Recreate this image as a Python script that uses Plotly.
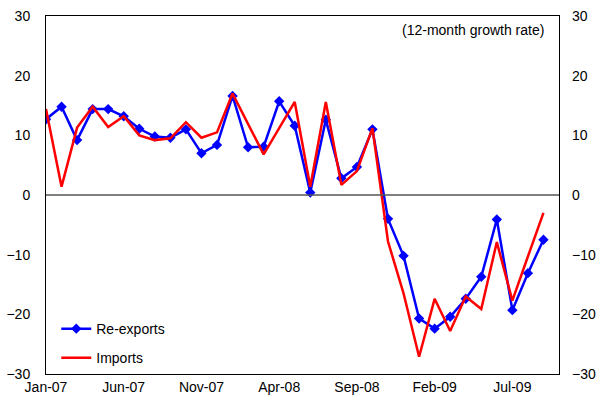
import plotly.graph_objects as go

# month labels shown on the x axis (every 5th month)
tick_labels = ["Jan-07", "Jun-07", "Nov-07", "Apr-08", "Sep-08", "Feb-09", "Jul-09"]
tick_pos = [0, 5, 10, 15, 20, 25, 30]

# 12-month growth rate, Jan-07 .. Sep-09
re_exports = [12.7, 14.8, 9.2, 14.4, 14.4, 13.2, 11.1, 9.8, 9.6, 11.0, 7.0, 8.4,
              16.6, 8.0, 8.1, 15.7, 11.6, 0.4, 12.6, 2.8, 4.7, 11.0, -4.0, -10.2,
              -20.7, -22.4, -20.4, -17.4, -13.7, -4.1, -19.3, -13.1, -7.5]
imports = [14.4, 1.4, 11.3, 14.8, 11.4, 13.2, 10.0, 9.2, 9.5, 12.2, 9.6, 10.5,
           17.0, 12.0, 6.8, 11.2, 15.6, 1.4, 15.6, 1.7, 4.0, 11.2, -7.8, -16.5,
           -27.1, -17.4, -22.8, -17.0, -19.1, -7.9, -17.7, -10.3, -3.0]

months = list(range(len(re_exports)))

fig = go.Figure()
fig.add_trace(go.Scatter(x=months, y=re_exports, name="Re-exports", mode="lines+markers",
                         line=dict(color="#0000ff", width=2.5),
                         marker=dict(symbol="diamond", size=8, color="#0000ff"),
                         legendgroup="a"))
fig.add_trace(go.Scatter(x=months, y=imports, name="Imports", mode="lines",
                         line=dict(color="#ff0000", width=2.5), legendgroup="b"))
# dummy trace so the right-hand axis gets drawn
fig.add_trace(go.Scatter(x=[0], y=[0], yaxis="y2", showlegend=False,
                         mode="markers", marker=dict(opacity=0), hoverinfo="skip"))

fig.add_hline(y=0, line=dict(color="#555555", width=1.5))

font = dict(family="Liberation Sans, Arial", size=14, color="black")

fig.update_layout(
    width=605, height=403,
    margin=dict(l=46, r=46, t=16, b=29),
    plot_bgcolor="white", paper_bgcolor="white",
    font=font,
    showlegend=True,
    legend=dict(x=0.02, y=0.085, xanchor="left", yanchor="middle",
                bgcolor="rgba(0,0,0,0)", traceorder="grouped", tracegroupgap=8,
                font=font),
    xaxis=dict(range=[0, 33], tickvals=tick_pos, ticktext=tick_labels,
               showgrid=False, zeroline=False, showline=True, linecolor="black",
               linewidth=1, mirror=True, ticks="", automargin=False,
               ticklabeloverflow="allow"),
    yaxis=dict(range=[-30, 30], dtick=10, showgrid=False, zeroline=False,
               showline=True, linecolor="black", linewidth=1, mirror=True,
               ticks="", ticklabelstandoff=12, automargin=False,
               ticklabeloverflow="allow"),
    yaxis2=dict(range=[-30, 30], dtick=10, overlaying="y", side="right",
                showgrid=False, zeroline=False, showline=False, ticks="",
                ticklabelstandoff=12, automargin=False, ticklabeloverflow="allow"),
    annotations=[dict(text="(12-month growth rate)", x=0.975, y=0.961,
                      xref="paper", yref="paper", xanchor="right", yanchor="middle",
                      showarrow=False, font=font)],
)

# drop the browser's default 8px body margin so the figure sits at the corner
fig.write_html("out.html", config={"displayModeBar": False},
               post_script="document.body.style.margin='0';")
